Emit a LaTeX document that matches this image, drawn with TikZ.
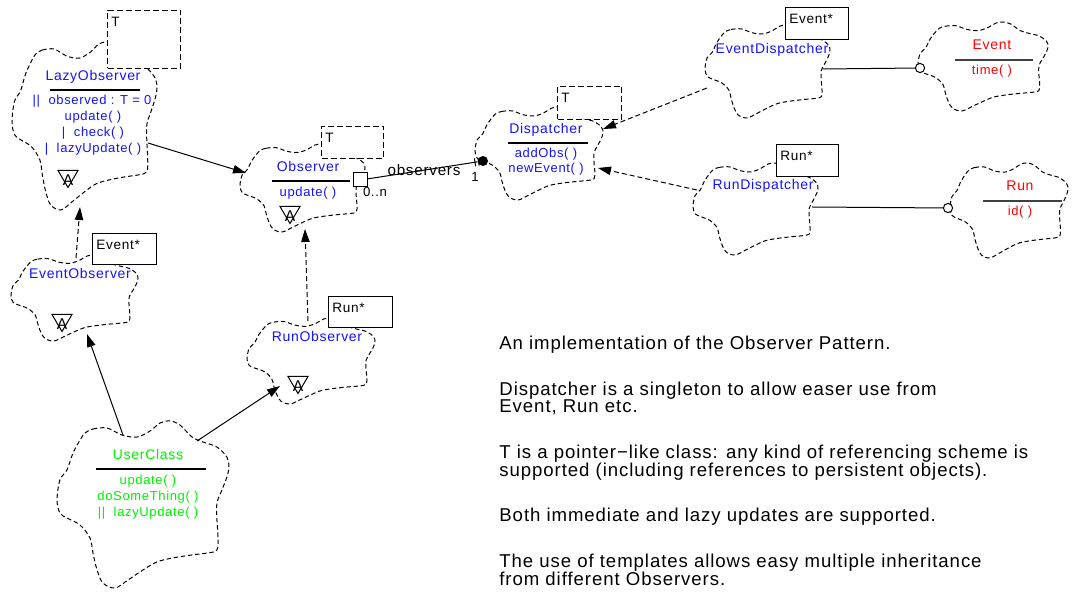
\documentclass[tikz,border=0pt]{standalone}
\usepackage{fontspec}
\setmainfont{Liberation Sans}[LetterSpace=5]
\usetikzlibrary{arrows.meta}
\definecolor{cblue}{RGB}{20,20,255}
\definecolor{cgreen}{RGB}{0,240,0}
\definecolor{cred}{RGB}{255,0,0}
\tikzset{
  cloudline/.style={line width=0.5pt,dash pattern=on 2.2pt off 1.4pt},
  conn/.style={line width=0.5pt},
  arr/.style={-{Triangle[length=6.5pt,width=4.2pt]}},
  dconn/.style={line width=0.5pt,dash pattern=on 2.5pt off 1.5pt},
  tmplbox/.style={draw,fill=white,line width=0.5pt,dash pattern=on 3pt off 1.5pt,anchor=north west,inner sep=0pt},
  argbox/.style={draw,fill=white,line width=0.5pt,anchor=north west,inner sep=0pt},
  boxlbl/.style={font=\fontsize{6.8}{7}\selectfont,anchor=north west,inner sep=0pt,xshift=2pt,yshift=-3.2pt},
  cname/.style={font=\fontsize{7}{8}\selectfont,inner sep=0pt,text height=5.2pt,text depth=1.5pt},
  cop/.style={font=\fontsize{6.5}{7.5}\selectfont,inner sep=0pt,text height=4.9pt,text depth=1.4pt},
  note/.style={font=\fontsize{9.3}{10}\selectfont,anchor=base west,inner sep=0pt},
  small/.style={font=\fontsize{6.6}{7}\selectfont,inner sep=0pt},
}
\newcommand{\bcloud}[4]{%
\begin{scope}[shift={(#1,#2)},xscale=#3,yscale=#4]
\draw[cloudline] plot[smooth cycle,tension=0.55] coordinates {(0.163,0.072) (0.209,0.048) (0.291,0.042) (0.378,0.084) (0.465,0.096) (0.541,0.060) (0.599,0.012) (0.657,0) (0.715,0.024) (0.785,0.096) (0.849,0.126) (0.930,0.156) (0.988,0.216) (1,0.275) (0.988,0.335) (0.959,0.413) (0.930,0.491) (0.930,0.593) (0.936,0.695) (0.930,0.772) (0.878,0.790) (0.785,0.802) (0.674,0.820) (0.581,0.844) (0.5,0.892) (0.413,0.952) (0.337,1) (0.267,0.970) (0.233,0.892) (0.209,0.790) (0.192,0.701) (0.134,0.623) (0.058,0.581) (0.017,0.551) (0,0.473) (0.017,0.353) (0.058,0.293) (0.093,0.192) (0.134,0.114)};
\end{scope}}
\newcommand{\abstri}[3]{%
\draw[line width=0.5pt] ({#1-10},{#2-8.5}) -- ({#1+10},{#2-8.5}) -- (#1,{#2+8.5}) -- cycle;
\node[font=\fontsize{7.8}{8}\selectfont,inner sep=0pt] (#3) at (#1,{#2+1}) {A};}
\begin{document}
\begin{tikzpicture}[x=0.5pt,y=-0.5pt]
\useasboundingbox[fill=white] (0,0) rectangle (1073,614);
% clouds
\bcloud{12}{42}{145}{168}
\bcloud{240}{144}{125}{88}
\bcloud{475}{107}{128}{93}
\bcloud{705}{25}{125}{93}
\bcloud{918}{22}{130}{89}
\bcloud{693}{163}{125}{92}
\bcloud{950}{163}{118}{95}
\bcloud{11}{255}{127}{86}
\bcloud{247}{318}{128}{86}
\bcloud{57}{421}{172}{167}
% template / argument boxes
\node[tmplbox,minimum width=36.5pt,minimum height=29pt] (lazyT) at (107,10) {};
\node[boxlbl] at (lazyT.north west) {T};
\node[tmplbox,minimum width=31pt,minimum height=16pt] (obsT) at (321,126) {};
\node[boxlbl] at (obsT.north west) {T};
\node[tmplbox,minimum width=32pt,minimum height=16.5pt] (dispT) at (557,86) {};
\node[boxlbl] at (dispT.north west) {T};
\node[argbox,minimum width=31.5pt,minimum height=16pt] (edA) at (785,7) {};
\node[boxlbl] at (edA.north west) {Event*};
\node[argbox,minimum width=31pt,minimum height=16pt] (rdA) at (776,144) {};
\node[boxlbl] at (rdA.north west) {Run*};
\node[argbox,minimum width=32pt,minimum height=15.5pt] (eoA) at (92,233) {};
\node[boxlbl] at (eoA.north west) {Event*};
\node[argbox,minimum width=32pt,minimum height=15.5pt] (roA) at (328,296) {};
\node[boxlbl] at (roA.north west) {Run*};
% class texts
\node[cname,text=cblue] (lazyN) at (93,77) {LazyObserver};
\draw[line width=0.6pt] (50,90) -- (140,90);
\node[cop,text=cblue] (lazy1) at (92,101) {||\ \ observed : T = 0};
\node[cop,text=cblue] (lazy2) at (93,117) {update( )};
\node[cop,text=cblue] (lazy3) at (93,133) {|\ \ check( )};
\node[cop,text=cblue] (lazy4) at (93,149) {|\ \ lazyUpdate( )};
\abstri{68}{179}{lazyA}
\node[cname,text=cblue] (obsN) at (308,168) {Observer};
\draw[line width=0.6pt] (272,181) -- (350,181);
\node[cop,text=cblue] (obs1) at (308,193) {update( )};
\abstri{290}{215}{obsA}
\node[cname,text=cblue] (dispN) at (546,130) {Dispatcher};
\draw[line width=0.6pt] (508,143) -- (588,143);
\node[cop,text=cblue] (disp1) at (546,154) {addObs( )};
\node[cop,text=cblue] (disp2) at (546,169) {newEvent( )};
\node[cname,text=cblue] (edN) at (772,50) {EventDispatcher};
\node[cname,text=cblue] (rdN) at (763,186) {RunDispatcher};
\node[cname,text=cblue] (eoN) at (80,275) {EventObserver};
\abstri{62}{323}{eoAb}
\node[cname,text=cblue] (roN) at (317,338) {RunObserver};
\abstri{298}{385}{roAb}
\node[cname,text=cgreen] (ucN) at (148,456) {UserClass};
\draw[line width=0.6pt] (96,469) -- (206,469);
\node[cop,text=cgreen] (uc1) at (148,481) {update( )};
\node[cop,text=cgreen] (uc2) at (148,497) {doSomeThing( )};
\node[cop,text=cgreen] (uc3) at (148,513) {||\ \ lazyUpdate( )};
\node[cname,text=cred] (evN) at (992,46) {Event};
\draw[line width=0.6pt,black!75] (955,60) -- (1033,60);
\node[cop,text=cred] (ev1) at (992,71) {time( )};
\node[cname,text=cred] (runN) at (1020,187) {Run};
\draw[line width=0.6pt,black!75] (983,201) -- (1062,201);
\node[cop,text=cred] (run1) at (1020,212) {id( )};
% connection points
\coordinate (lazyR) at (148,143);
\coordinate (obsL) at (246,173);
\coordinate (lazyB) at (80,207);
\coordinate (eoT) at (76,258);
\coordinate (obsB) at (305,229);
\coordinate (roT) at (308,321);
\coordinate (ucA) at (123,435);
\coordinate (eoB) at (87,334);
\coordinate (ucB) at (197,441);
\coordinate (roL) at (280,386);
\coordinate (edL) at (707,88);
\coordinate (dispR1) at (603,129);
\coordinate (rdL) at (697,190);
\coordinate (dispR2) at (598,168);
\coordinate (edR) at (823,69);
\coordinate (rdR) at (812,207);
% connectors
\draw[conn,arr] (lazyR) -- (obsL);
\draw[dconn,arr] (eoT) -- (lazyB);
\draw[dconn,arr] (roT) -- (obsB);
\draw[conn,arr] (ucA) -- (eoB);
\draw[conn,arr] (ucB) -- (roL);
\draw[dconn,arr] (edL) -- (dispR1);
\draw[dconn,arr] (rdL) -- (dispR2);
\node[circle,draw,fill=white,line width=0.5pt,inner sep=0pt,minimum size=4.6pt] (evC) at (920,68) {};
\node[circle,draw,fill=white,line width=0.5pt,inner sep=0pt,minimum size=4.6pt] (runC) at (948,208) {};
\draw[conn] (edR) -- (evC);
\draw[conn] (rdR) -- (runC);
\node[circle,fill,inner sep=0pt,minimum size=5pt] (dot) at (483,161) {};
\node[small,font=\fontsize{7.6}{8}\selectfont] (obsLbl) at (424,170) {observers};
\draw[conn] (367,179) -- (dot);
\node[draw,fill=white,line width=0.5pt,inner sep=0pt,minimum size=7pt] (sq) at (360,180) {};
\draw[conn] (474.4,158.3) -- (475.6,166.3);
\draw[conn] (477.9,157.7) -- (479.1,165.7);
\node[small] (mult0) at (375,192) {0..n};
\node[small] (mult1) at (475,177) {1};
% notes
\node[note] (n1) at (499,350) {An implementation of the Observer Pattern.};
\node[note] (n2) at (499,395.5) {Dispatcher is a singleton to allow easer use from};
\node[note] (n3) at (499,413) {Event, Run etc.};
\node[note] (n4) at (499,459) {T is a pointer−like class: any kind of referencing scheme is};
\node[note] (n5) at (499,476.5) {supported (including references to persistent objects).};
\node[note] (n6) at (499,522) {Both immediate and lazy updates are supported.};
\node[note] (n7) at (499,568) {The use of templates allows easy multiple inheritance};
\node[note] (n8) at (499,585.5) {from different Observers.};
\end{tikzpicture}
\end{document}
